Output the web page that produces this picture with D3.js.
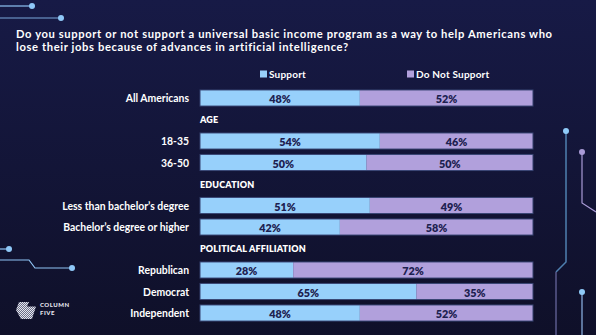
<!DOCTYPE html>
<html>
<head>
<meta charset="utf-8">
<script src="https://cdn.jsdelivr.net/npm/d3@7"></script>
<style>
  html, body { margin: 0; padding: 0; background: #131537; }
  svg { display: block; }
  text { font-family: Lato, "Noto Sans", sans-serif; }
</style>
</head>
<body>
<svg id="chart" width="596" height="335"></svg>
<script>
// ---------- DATA ----------
const titleLines = [
  "Do you support or not support a universal basic income program as a way to help Americans who",
  "lose their jobs because of advances in artificial intelligence?"
];
const rowLabels = [
  "All Americans", "AGE", "18-35", "36-50", "EDUCATION",
  "Less than bachelor’s degree", "Bachelor’s degree or higher",
  "POLITICAL AFFILIATION", "Republican", "Democrat", "Independent"
];
const supportValues    = [48, null, 54, 50, null, 51, 42, null, 28, 65, 48];
const notSupportValues = [52, null, 46, 50, null, 49, 58, null, 72, 35, 52];
const seriesNames = ["Support", "Do Not Support"];

// ---------- STYLE ----------
const W = 596, H = 335;
const colors = { support: "#97d0fb", notSupport: "#b1a0dc", barText: "#1d2150", border: "#34406e" };

const svg = d3.select("#chart");
const defs = svg.append("defs");
const grad = defs.append("linearGradient").attr("id", "bg").attr("x1", 0).attr("y1", 0).attr("x2", 0).attr("y2", 1);
grad.append("stop").attr("offset", "0%").attr("stop-color", "#171a46");
grad.append("stop").attr("offset", "100%").attr("stop-color", "#0f1029");
svg.append("rect").attr("width", W).attr("height", H).attr("fill", "url(#bg)");

// ---------- decorations ----------
const deco = svg.append("g").attr("fill", "none");
function circuit(points, color, width, dotAt, dotColor) {
  deco.append("path").attr("d", d3.line()(points)).attr("stroke", color).attr("stroke-width", width);
  if (dotAt) deco.append("circle").attr("cx", dotAt[0]).attr("cy", dotAt[1]).attr("r", 3).attr("fill", dotColor || color);
}
circuit([[0, 6], [32, 6]], "#8fc4f5", 1.2, [32, 6], "#8fc8f8");
circuit([[0, 18], [61, 18]], "#7aa7dc", 1.2, [61, 18], "#8fc8f8");
circuit([[0, 249], [9, 249]], "#8fc4f5", 1.2, [9, 249], "#8fc8f8");
circuit([[0, 260], [29, 260], [35, 268], [72, 268]], "#8fc4f5", 1.2, [72, 268], "#8fc8f8");
circuit([[566, 131], [566, 262], [556, 272]], "#4f80b0", 1.5, [566, 131], "#8fcaf8");
circuit([[556, 272], [556, 335]], "#5a5a8c", 1.5);
circuit([[582, 152], [582, 203], [596, 212]], "#a99ad6", 1.2, [582, 152], "#a99ad6");
circuit([[582, 292], [582, 335]], "#8fb8ea", 1.2, [582, 292], "#8fcaf8");

// logo
const pat = defs.append("pattern").attr("id", "chk").attr("width", 2).attr("height", 2).attr("patternUnits", "userSpaceOnUse");
pat.append("rect").attr("width", 2).attr("height", 2).attr("fill", "#6b6f88");
pat.append("rect").attr("width", 1).attr("height", 1).attr("fill", "#e6e6ee");
pat.append("rect").attr("x", 1).attr("y", 1).attr("width", 1).attr("height", 1).attr("fill", "#e6e6ee");
svg.append("path").attr("d", "M19,302 L29,302 L27,306.5 L36,306.5 L32,319 L21,319 L16,310 Z").attr("fill", "url(#chk)");
svg.append("text").attr("x", 40).attr("y", 307).attr("fill", "#e8e8f0").attr("font-size", 6).attr("font-weight", 900).attr("letter-spacing", 0.5).text("COLUMN");
svg.append("text").attr("x", 40).attr("y", 315).attr("fill", "#e8e8f0").attr("font-size", 6).attr("font-weight", 900).attr("letter-spacing", 0.5).text("FIVE");

// ---------- title ----------
const title = svg.append("g");
titleLines.forEach((t, i) => {
  title.append("text").attr("x", 16).attr("y", 37.5 + i * 13.6)
    .attr("fill", "#ffffff").attr("font-size", 11.2).attr("font-weight", 700)
    .text(t);
});
// widen letter spacing so the first line spans the same width as the reference
(function () {
  const nodes = title.selectAll("text").nodes();
  const w = nodes[0].getComputedTextLength();
  const ls = (536 - w) / (titleLines[0].length - 1);
  title.selectAll("text").attr("letter-spacing", ls);
})();

// ---------- scales ----------
const x = d3.scaleLinear().domain([0, 100]).range([200, 533]);
const y = d3.scaleBand().domain(rowLabels).range([87.25, 323.75]).paddingInner(0.25).paddingOuter(0.125);

// ---------- legend ----------
const legend = svg.append("g");
[[seriesNames[0], colors.support, 260], [seriesNames[1], colors.notSupport, 407]].forEach(([name, c, lx]) => {
  legend.append("rect").attr("x", lx).attr("y", 70.5).attr("width", 7).attr("height", 7).attr("fill", c);
  legend.append("text").attr("x", lx + 9).attr("y", 74).attr("dominant-baseline", "central")
    .attr("fill", "#ffffff").attr("font-size", 10).attr("font-weight", 700).attr("letter-spacing", 0.2).text(name);
});

// ---------- rows ----------
const rows = rowLabels.map((label, i) => ({ label, s: supportValues[i], n: notSupportValues[i] }));
const g = svg.append("g");

rows.forEach(r => {
  const cy = y(r.label) + y.bandwidth() / 2;
  if (r.s === null) {
    g.append("text").attr("x", 200).attr("y", cy).attr("dominant-baseline", "central")
      .attr("fill", "#ffffff").attr("font-size", 9).attr("font-weight", 800).attr("letter-spacing", 0.15)
      .text(r.label);
    return;
  }
  g.append("text").attr("x", 189).attr("y", cy).attr("dominant-baseline", "central").attr("text-anchor", "end")
    .attr("fill", "#ffffff").attr("font-size", 10.4).attr("font-weight", 700).text(r.label);

  const segs = [
    { x0: 0, x1: r.s, c: colors.support, v: r.s },
    { x0: r.s, x1: r.s + r.n, c: colors.notSupport, v: r.n }
  ];
  g.append("rect").attr("x", x(0) - 0.5).attr("y", y(r.label) - 0.5)
    .attr("width", x(100) - x(0) + 1).attr("height", y.bandwidth() + 1).attr("fill", colors.border);
  segs.forEach(sg => {
    g.append("rect").attr("x", x(sg.x0) + (sg.x0 === 0 ? 0.5 : 0)).attr("y", y(r.label) + 0.5)
      .attr("width", x(sg.x1) - x(sg.x0) - 0.5).attr("height", y.bandwidth() - 1)
      .attr("fill", sg.c);
    g.append("text").attr("x", (x(sg.x0) + x(sg.x1)) / 2).attr("y", cy + 0.5)
      .attr("text-anchor", "middle").attr("dominant-baseline", "central")
      .attr("fill", colors.barText).attr("font-size", 10.8).attr("font-weight", 800)
      .text(sg.v + "%");
  });
});
</script>
</body>
</html>
